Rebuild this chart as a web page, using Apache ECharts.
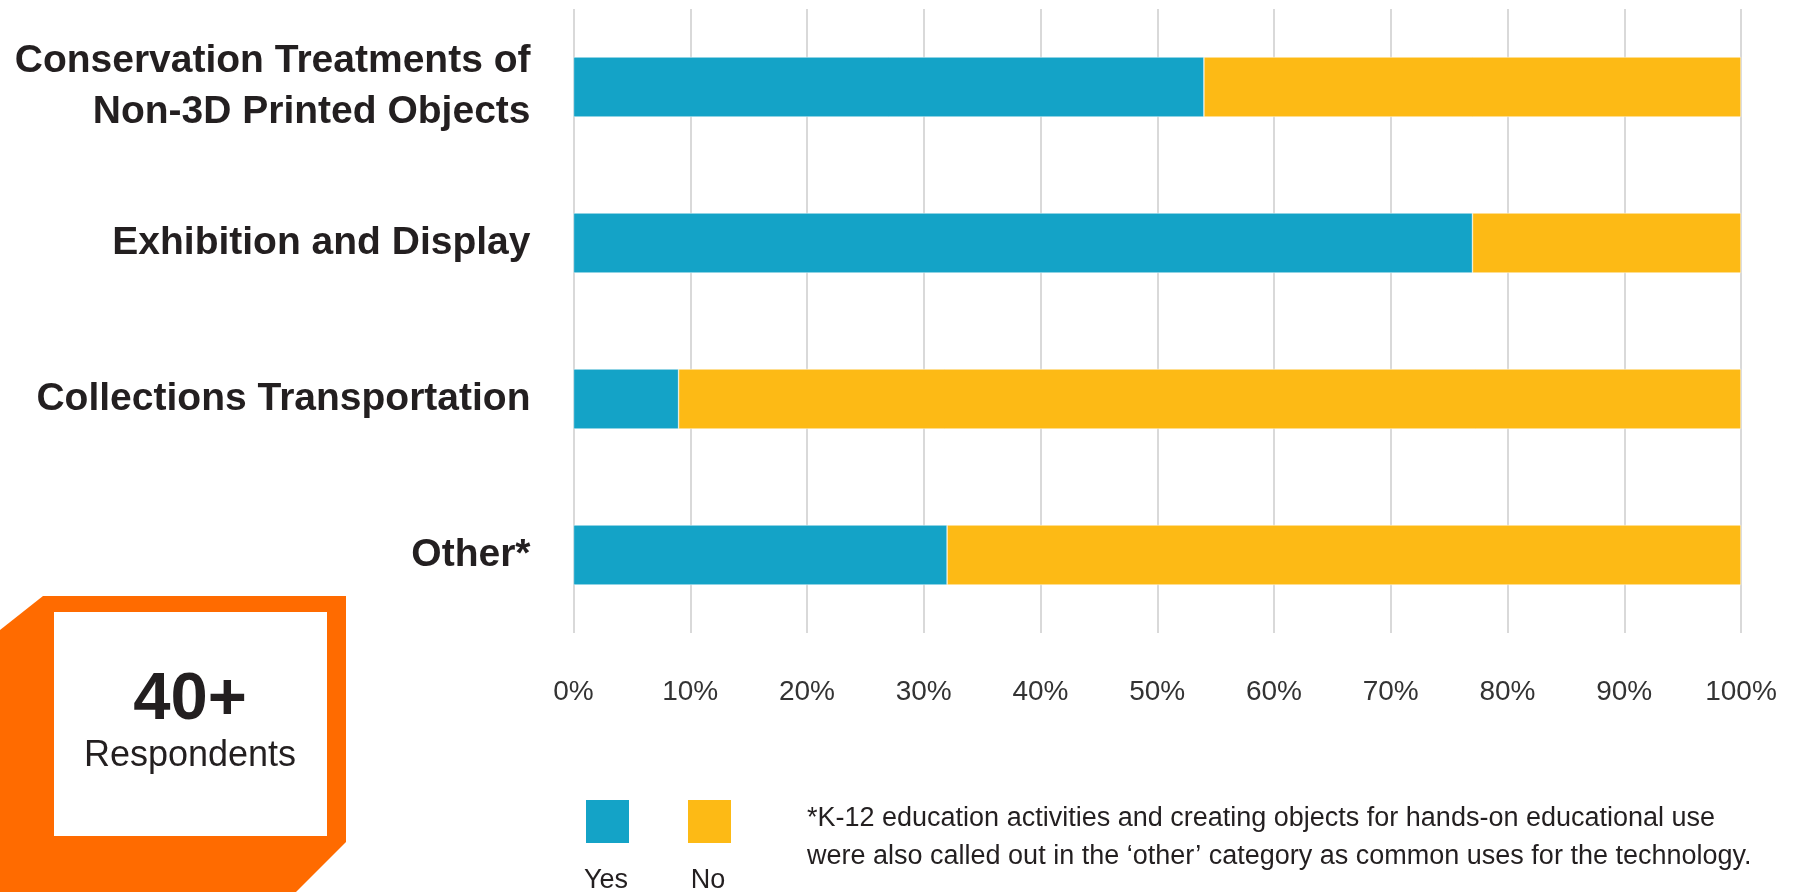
<!DOCTYPE html>
<html>
<head>
<meta charset="utf-8">
<style>
html,body{margin:0;padding:0;background:#fff;}
#chart{width:1795px;height:892px;}
</style>
<script src="https://cdn.jsdelivr.net/npm/echarts@6/dist/echarts.min.js"></script>
</head>
<body>
<div id="chart"></div>
<script>
const categories = [
  'Conservation Treatments of\nNon-3D Printed Objects',
  'Exhibition and Display',
  'Collections Transportation',
  'Other*'
];
const yesValues = [54, 77, 9, 32];
const noValues = [46, 23, 91, 68];
const seriesNames = ['Yes', 'No'];
const footnoteLines = [
  '*K-12 education activities and creating objects for hands-on educational use',
  'were also called out in the \u2018other\u2019 category as common uses for the technology.'
];
const badgeNumber = '40+';
const badgeLabel = 'Respondents';

const FONT = '"Liberation Sans", Arial, Helvetica, sans-serif';
const DARK = '#231f20';
const BLUE = '#14a3c7';
const YELLOW = '#fdba15';
const ORANGE = '#ff6b00';

const chart = echarts.init(document.getElementById('chart'));
chart.setOption({
  animation: false,
  backgroundColor: '#ffffff',
  textStyle: { fontFamily: FONT },
  grid: { left: 573.5, right: 54, top: 9, bottom: 259, containLabel: false },
  xAxis: {
    type: 'value', min: 0, max: 100, interval: 10,
    axisLine: { show: false }, axisTick: { show: false },
    splitLine: { show: true, lineStyle: { color: '#d9d9d9', width: 2 } },
    axisLabel: { formatter: '{value}%', fontSize: 28, color: '#333333', margin: 45, fontFamily: FONT }
  },
  yAxis: {
    type: 'category', inverse: true, data: categories,
    axisLine: { show: false }, axisTick: { show: false },
    axisLabel: { fontSize: 39, fontWeight: 'bold', color: DARK, margin: 43, lineHeight: 51, align: 'right',
      padding: [5, 0, 0, 0], fontFamily: FONT }
  },
  legend: [
    { data: [seriesNames[0]], left: 584, top: 798, itemWidth: 45, itemHeight: 45, icon: 'rect', formatter: () => '', selectedMode: false, padding: 0, itemGap: 0 },
    { data: [seriesNames[1]], left: 686, top: 798, itemWidth: 45, itemHeight: 45, icon: 'rect', formatter: () => '', selectedMode: false, padding: 0, itemGap: 0 }
  ],
  series: [
    { name: seriesNames[0], type: 'bar', stack: 'total', data: yesValues, barWidth: 60,
      itemStyle: { color: BLUE, borderColor: '#ffffff', borderWidth: 0.5 } },
    { name: seriesNames[1], type: 'bar', stack: 'total', data: noValues, barWidth: 60,
      itemStyle: { color: YELLOW, borderColor: '#ffffff', borderWidth: 0.5 } }
  ],
  graphic: [
    { type: 'polygon', shape: { points: [[43,596],[346,596],[346,842],[296,892],[0,892],[0,630]] }, style: { fill: ORANGE } },
    { type: 'rect', shape: { x: 54, y: 612, width: 273, height: 224 }, style: { fill: '#ffffff' } },
    { type: 'text', x: 190, y: 701, style: { text: badgeNumber, font: 'bold 67px ' + FONT, fill: DARK, align: 'center', verticalAlign: 'middle' } },
    { type: 'text', x: 190, y: 756, style: { text: badgeLabel, font: '36px ' + FONT, fill: DARK, align: 'center', verticalAlign: 'middle' } },
    { type: 'text', x: 606, y: 881, style: { text: seriesNames[0], font: '27px ' + FONT, fill: DARK, align: 'center', verticalAlign: 'middle' } },
    { type: 'text', x: 708, y: 881, style: { text: seriesNames[1], font: '27px ' + FONT, fill: DARK, align: 'center', verticalAlign: 'middle' } },
    { type: 'text', x: 807, y: 819, style: { text: footnoteLines[0], font: '27px ' + FONT, fill: DARK, align: 'left', verticalAlign: 'middle' } },
    { type: 'text', x: 807, y: 857, style: { text: footnoteLines[1], font: '27px ' + FONT, fill: DARK, align: 'left', verticalAlign: 'middle' } }
  ]
});
</script>
</body>
</html>
